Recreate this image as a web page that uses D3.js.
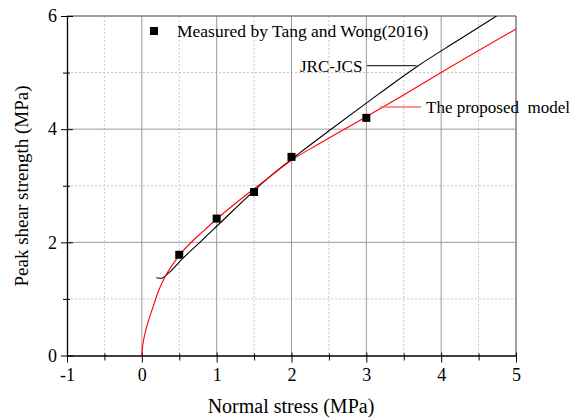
<!DOCTYPE html>
<html>
<head>
<meta charset="utf-8">
<script src="https://cdn.jsdelivr.net/npm/d3@7"></script>
<style>
  body { margin: 0; background: #fff; }
  svg text { font-family: "Liberation Serif", "Times New Roman", serif; fill: #000; }
</style>
</head>
<body>
<svg id="chart" width="583" height="418"></svg>
<script>
// measured points (Tang and Wong 2016)
var measured_x = [0.5, 1.0, 1.5, 2.0, 3.0];
var measured_y = [1.78, 2.42, 2.89, 3.51, 4.2];

// proposed model curve
var model_x = [0, 0.01, 0.04, 0.085, 0.15, 0.22, 0.31, 0.49, 0.84, 1.0, 1.71, 2.0, 2.38, 3.0, 3.47, 4.0, 5.0];
var model_y = [0, 0.15, 0.38, 0.6, 0.86, 1.13, 1.39, 1.75, 2.22, 2.41, 3.16, 3.45, 3.75, 4.22, 4.58, 5.0, 5.77];

// JRC-JCS curve
var jrc_x = [0.195, 0.263, 0.352, 0.55, 0.775, 0.95, 1.71, 2.11, 2.51, 3.0, 3.67, 4.2, 4.74];
var jrc_y = [1.375, 1.364, 1.452, 1.72, 2.0, 2.22, 3.16, 3.58, 3.98, 4.46, 5.1, 5.55, 6.0];

var x_ticks = [-1, 0, 1, 2, 3, 4, 5];
var x_minor = [-0.5, 0.5, 1.5, 2.5, 3.5, 4.5];
var y_ticks = [0, 2, 4, 6];
var y_minor = [1, 3, 5];

var svg = d3.select("#chart");
var p_left = 67, p_right = 516, p_top = 16, p_bottom = 355.5;

var x = d3.scaleLinear().domain([-1, 5]).range([p_left, p_right]);
var y = d3.scaleLinear().domain([0, 6]).range([p_bottom, p_top]);

function fmt(d) { return String(d); }  // plain hyphen for -1

// minor grid (dashed)
svg.selectAll(".gx-minor").data(x_minor).enter().append("line")
    .attr("x1", function(d) { return x(d); }).attr("x2", function(d) { return x(d); })
    .attr("y1", p_top).attr("y2", p_bottom)
    .style("stroke", "#c8c8c8").style("stroke-dasharray", "2,2").style("stroke-width", 1);
svg.selectAll(".gy-minor").data(y_minor).enter().append("line")
    .attr("x1", p_left).attr("x2", p_right)
    .attr("y1", function(d) { return y(d); }).attr("y2", function(d) { return y(d); })
    .style("stroke", "#c8c8c8").style("stroke-dasharray", "2,2").style("stroke-width", 1);

// major grid
svg.selectAll(".gx").data(x_ticks.slice(1)).enter().append("line")
    .attr("x1", function(d) { return x(d); }).attr("x2", function(d) { return x(d); })
    .attr("y1", p_top).attr("y2", p_bottom)
    .style("stroke", "#9a9a9a").style("stroke-width", 1);
svg.selectAll(".gy").data(y_ticks.slice(1)).enter().append("line")
    .attr("x1", p_left).attr("x2", p_right)
    .attr("y1", function(d) { return y(d); }).attr("y2", function(d) { return y(d); })
    .style("stroke", "#9a9a9a").style("stroke-width", 1);

// top / right frame
svg.append("line").attr("x1", p_left).attr("x2", p_right).attr("y1", p_top).attr("y2", p_top)
    .style("stroke", "#707070");
svg.append("line").attr("x1", p_right).attr("x2", p_right).attr("y1", p_top).attr("y2", p_bottom)
    .style("stroke", "#707070");

// axes
var xAxis = svg.append("g").attr("transform", "translate(0," + p_bottom + ")")
    .call(d3.axisBottom(x).tickValues(x_ticks).tickSize(7).tickSizeOuter(0).tickPadding(6)
      .tickFormat(fmt));
xAxis.selectAll(".tick line").attr("y1", -3);
xAxis.selectAll(".tick text").style("font-size", "18px");
svg.append("g").attr("transform", "translate(0," + p_bottom + ")")
    .call(d3.axisBottom(x).tickValues(x_minor).tickSize(5).tickSizeOuter(0).tickFormat(""))
    .call(function(g) { g.select(".domain").remove(); })
    .selectAll(".tick line").attr("y1", -2);

var yAxis = svg.append("g").attr("transform", "translate(" + p_left + ",0)")
    .call(d3.axisLeft(y).tickValues(y_ticks).tickSize(6).tickSizeOuter(0).tickPadding(4)
      .tickFormat(fmt));
yAxis.selectAll(".tick line").attr("x1", 6);
yAxis.selectAll(".tick text").style("font-size", "18px");
svg.append("g").attr("transform", "translate(" + p_left + ",0)")
    .call(d3.axisLeft(y).tickValues(y_minor).tickSize(4).tickSizeOuter(0).tickFormat(""))
    .call(function(g) { g.select(".domain").remove(); })
    .selectAll(".tick line").attr("x1", 3);

svg.selectAll(".domain").style("stroke", "#000").style("stroke-width", 1.3);

// curves
svg.append("clipPath").attr("id", "plotclip").append("rect")
    .attr("x", p_left).attr("y", p_top).attr("width", p_right - p_left).attr("height", p_bottom - p_top);

var line = d3.line()
    .x(function(d) { return x(d[0]); })
    .y(function(d) { return y(d[1]); })
    .curve(d3.curveMonotoneX);

svg.append("path").datum(d3.zip(jrc_x, jrc_y))
    .attr("d", line).attr("clip-path", "url(#plotclip)")
    .style("fill", "none").style("stroke", "#000").style("stroke-width", 1.1);
svg.append("path").datum(d3.zip(model_x, model_y))
    .attr("d", line).attr("clip-path", "url(#plotclip)")
    .style("fill", "none").style("stroke", "#ff0000").style("stroke-width", 1.1);

// measured squares
var sq = 8;
svg.selectAll(".pt").data(d3.zip(measured_x, measured_y)).enter().append("rect")
    .attr("x", function(d) { return x(d[0]) - sq / 2; })
    .attr("y", function(d) { return y(d[1]) - sq / 2; })
    .attr("width", sq).attr("height", sq)
    .style("fill", "#000");

// legend
svg.append("rect").attr("x", 150).attr("y", 27).attr("width", 8).attr("height", 8).style("fill", "#000");
svg.append("text").attr("x", 177).attr("y", 37).style("font-size", "17.5px")
    .text("Measured by Tang and Wong(2016)");

// annotations
svg.append("text").attr("x", 300).attr("y", 72).style("font-size", "17px").text("JRC-JCS");
svg.append("line").attr("x1", 367).attr("x2", x(3.67)).attr("y1", 65.7).attr("y2", 65.7)
    .style("stroke", "#000");
svg.append("text").attr("x", 426).attr("y", 113).style("font-size", "17px")
    .text("The proposed \u00a0model");
svg.append("line").attr("x1", 380).attr("x2", 421).attr("y1", 107).attr("y2", 107)
    .style("stroke", "#ff6b6b").style("stroke-width", 1.3);

// axis titles
svg.append("text").attr("x", 291).attr("y", 413).attr("text-anchor", "middle")
    .style("font-size", "20px").text("Normal stress (MPa)");
svg.append("text").attr("transform", "translate(28,186) rotate(-90)").attr("text-anchor", "middle")
    .style("font-size", "19px").text("Peak shear strength (MPa)");
</script>
</body>
</html>
